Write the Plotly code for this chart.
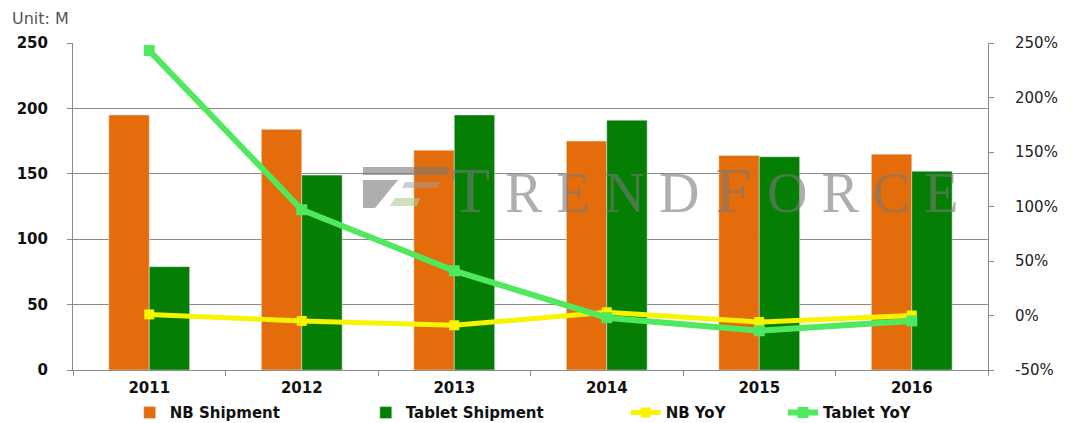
# NB vs Tablet shipment, 2011-2016 (TrendForce)

import plotly.graph_objs as go

years = ['2011', '2012', '2013', '2014', '2015', '2016']
nb_shipment = [195, 184, 168, 175, 164, 165]
tablet_shipment = [79, 149, 195, 191, 163, 152]
nb_yoy = [1, -5, -9, 3, -6, 0]
tablet_yoy = [243, 97, 41, -2, -14, -5]

left_ticks = [0, 50, 100, 150, 200, 250]
right_ticks = [-50, 0, 50, 100, 150, 200, 250]
right_labels = ['-50%', '0%', '50%', '100%', '150%', '200%', '250%']

bold = dict(family='DejaVu Sans', size=15, color='#111111', weight='bold')
grey = '#8a8a8a'
mark = 'rgba(120,120,120,0.6)'

trace0 = go.Bar(x=years, y=nb_shipment, name='NB Shipment', marker_color='#E46C0A',
                legend='legend')
trace1 = go.Bar(x=years, y=tablet_shipment, name='Tablet Shipment', marker_color='#047F04',
                legend='legend2')
trace2 = go.Scatter(x=years, y=nb_yoy, name='NB YoY', yaxis='y2', mode='lines+markers',
                    line=dict(color='#F8F400', width=5),
                    marker=dict(symbol='square', size=10, color='#F8F400'),
                    legend='legend3')
trace3 = go.Scatter(x=years, y=tablet_yoy, name='Tablet YoY', yaxis='y2', mode='lines+markers',
                    line=dict(color='#50E85C', width=6),
                    marker=dict(symbol='square', size=11, color='#50E85C'),
                    legend='legend4')

fig = go.Figure(data=[trace0, trace1, trace2, trace3])

# one legend per entry so the items sit where the original has them
def leg(x):
    return dict(orientation='h', x=x, xanchor='left', y=0.024, yref='container',
                yanchor='middle', font=bold, bgcolor='rgba(0,0,0,0)')

fig.update_layout(
    width=1074, height=423,
    margin=dict(l=73, r=86, t=43, b=53),
    paper_bgcolor='white', plot_bgcolor='white',
    barmode='group', bargap=0.47, bargroupgap=0,
    font=dict(family='DejaVu Sans', size=14, color='#222222'),
    xaxis=dict(type='category', showline=True, linecolor=grey, linewidth=1,
               ticks='outside', tickson='boundaries', ticklen=5, tickcolor=grey,
               tickfont=bold, showgrid=False, automargin=False, ticklabelstandoff=4),
    yaxis=dict(range=[0, 250], tickvals=left_ticks, showgrid=True, gridcolor=grey,
               gridwidth=1, zeroline=False, showline=True, linecolor=grey,
               ticks='outside', ticklen=5, tickcolor=grey, tickfont=bold,
               ticklabelstandoff=16, automargin=False),
    yaxis2=dict(range=[-50, 250], tickvals=right_ticks, ticktext=right_labels,
                overlaying='y', side='right', showgrid=False, zeroline=False,
                showline=True, linecolor=grey, ticks='outside', ticklen=5, tickcolor=grey,
                tickfont=dict(family='DejaVu Sans', size=15, color='#222222'),
                ticklabelstandoff=18, automargin=False),
    legend=leg(0.062),
    legend2=leg(0.320),
    legend3=leg(0.604),
    legend4=leg(0.776),
    showlegend=True,
)

# unit label and watermark
fig.add_annotation(text='Unit: M', xref='paper', yref='paper', x=-0.069, y=1.076,
                   xanchor='left', yanchor='middle', showarrow=False,
                   font=dict(family='DejaVu Sans', size=16, color='#555555'))
fig.add_annotation(text="T <span style='font-size:56px'>R E N D</span> F <span style='font-size:56px'>O R C E</span>",
                   xref='paper', yref='paper', x=0.69, y=0.55, xanchor='center', yanchor='middle',
                   showarrow=False,
                   font=dict(family='Liberation Serif', size=64, color=mark))
logo = [
    ('M 0.3169,0.6208 L 0.4120,0.6208 L 0.4087,0.5963 L 0.3169,0.5963 Z', mark),
    ('M 0.3169,0.5810 L 0.3552,0.5810 L 0.3301,0.4954 L 0.3169,0.4954 Z', mark),
    ('M 0.3628,0.5749 L 0.4011,0.5749 L 0.3978,0.5566 L 0.3596,0.5566 Z', 'rgba(160,160,160,0.5)'),
    ('M 0.3519,0.5260 L 0.3792,0.5260 L 0.3760,0.5015 L 0.3464,0.5015 Z', 'rgba(170,205,150,0.6)'),
]
for path, colour in logo:
    fig.add_shape(type='path', xref='paper', yref='paper', path=path,
                  fillcolor=colour, line_width=0, layer='above')

fig.write_html('out.html', config={'displayModeBar': False},
               post_script="document.body.style.margin='0';")
